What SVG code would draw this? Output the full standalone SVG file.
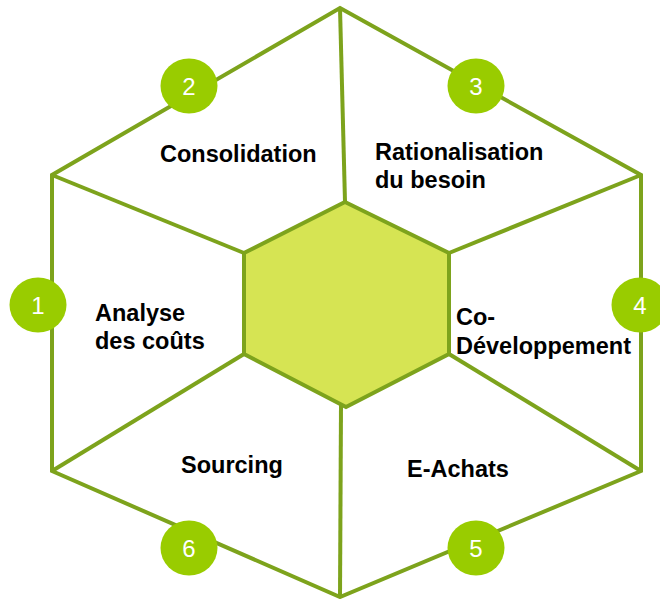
<svg xmlns="http://www.w3.org/2000/svg" width="660" height="599" viewBox="0 0 660 599">
<style>
.ln{fill:none;stroke:#7DA31C;stroke-width:4;stroke-linejoin:miter}
.num{font-family:"Liberation Sans",Arial,sans-serif;font-size:24px;fill:#ffffff;text-anchor:middle}
.lbl{font-family:"Liberation Sans",Arial,sans-serif;font-size:23.5px;font-weight:bold;fill:#000000}
.c{fill:#99CC00}
</style>
<rect width="660" height="599" fill="#ffffff"/>
<g id="connectors">
<polygon class="ln" points="340,8 641,175 641,471 340,597 52,471 52,175"/>
<line class="ln" x1="340" y1="8" x2="345" y2="202"/>
<line class="ln" x1="641" y1="175" x2="449" y2="253"/>
<line class="ln" x1="641" y1="471" x2="449" y2="354"/>
<line class="ln" x1="340" y1="597" x2="341" y2="405"/>
<line class="ln" x1="52" y1="471" x2="244" y2="354"/>
<line class="ln" x1="52" y1="175" x2="244" y2="253"/>
</g>
<g id="center">
<polygon points="345,202 449,253 449,354 346,407 244,354 244,253" fill="#D6E453" stroke="#7DA31C" stroke-width="4"/>
</g>
<g id="n1"><ellipse class="c" cx="38" cy="305" rx="28.5" ry="27.5"/><text class="num" x="38" y="313.5">1</text></g>
<g id="n2"><ellipse class="c" cx="189" cy="86" rx="28.5" ry="27.5"/><text class="num" x="189" y="94.5">2</text></g>
<g id="n3"><ellipse class="c" cx="476" cy="86" rx="28.5" ry="27.5"/><text class="num" x="476" y="94.5">3</text></g>
<g id="n4"><ellipse class="c" cx="640" cy="305" rx="28.5" ry="27.5"/><text class="num" x="640" y="313.5">4</text></g>
<g id="n5"><ellipse class="c" cx="476" cy="548" rx="28.5" ry="27.5"/><text class="num" x="476" y="556.5">5</text></g>
<g id="n6"><ellipse class="c" cx="189" cy="548" rx="28.5" ry="27.5"/><text class="num" x="189" y="556.5">6</text></g>
<g id="l-consolidation"><text class="lbl" x="160" y="162">Consolidation</text></g>
<g id="l-rationalisation"><text class="lbl" x="375" y="160">Rationalisation</text><text class="lbl" x="375" y="188">du besoin</text></g>
<g id="l-analyse"><text class="lbl" x="95" y="321">Analyse</text><text class="lbl" x="95" y="349">des coûts</text></g>
<g id="l-codev"><text class="lbl" x="456" y="325">Co-</text><text class="lbl" x="456" y="354">Développement</text></g>
<g id="l-sourcing"><text class="lbl" x="181" y="473">Sourcing</text></g>
<g id="l-eachats"><text class="lbl" x="407" y="477">E-Achats</text></g>
</svg>
